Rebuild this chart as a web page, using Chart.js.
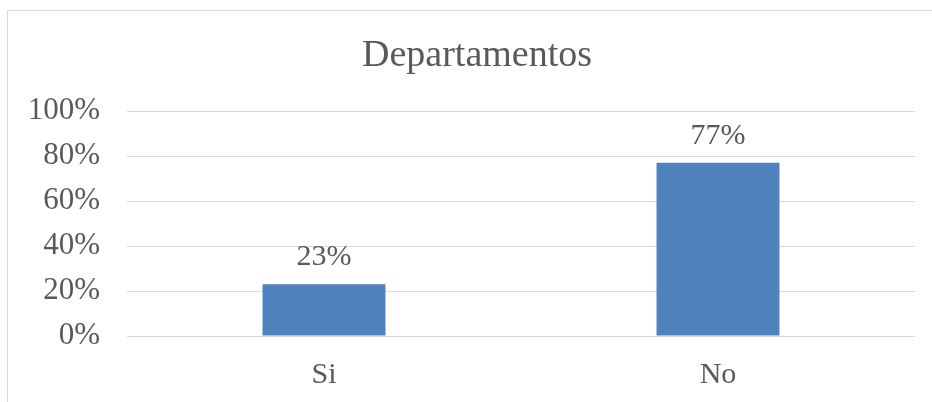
<!DOCTYPE html>
<html>
<head>
<meta charset="utf-8">
<script src="https://cdn.jsdelivr.net/npm/chart.js@4/dist/chart.umd.min.js"></script>
<style>
  html, body { margin: 0; padding: 0; background: #fff; }
  #wrap { width: 932px; height: 402px; position: relative; }
</style>
</head>
<body>
<div id="wrap"><canvas id="c" width="932" height="402"></canvas></div>
<script>
const categories = ['Si', 'No'];
const values = [23, 77];
const tickValues = [0, 20, 40, 60, 80, 100];
const chartTitle = 'Departamentos';

const SERIF = '"Liberation Serif", "Times New Roman", serif';
const TEXT = '#595959';

// Frame around the whole chart
const framePlugin = {
  id: 'frame',
  beforeDraw(chart) {
    const ctx = chart.ctx;
    ctx.save();
    ctx.fillStyle = '#ffffff';
    ctx.fillRect(0, 0, chart.width, chart.height);
    ctx.strokeStyle = '#d9d9d9';
    ctx.lineWidth = 1;
    ctx.strokeRect(7.5, 10.5, chart.width + 20, chart.height + 20);
    ctx.restore();
  }
};

// Heading centred over the chart frame
const headingPlugin = {
  id: 'heading',
  afterDraw(chart) {
    const ctx = chart.ctx;
    ctx.save();
    ctx.font = '38px ' + SERIF;
    ctx.fillStyle = TEXT;
    ctx.textAlign = 'center';
    ctx.textBaseline = 'middle';
    ctx.fillText(chartTitle, 477, 56);
    ctx.restore();
  }
};

// Percentage labels above each bar
const valueLabels = {
  id: 'valueLabels',
  afterDatasetsDraw(chart) {
    const ctx = chart.ctx;
    const meta = chart.getDatasetMeta(0);
    ctx.save();
    ctx.font = '30px ' + SERIF;
    ctx.fillStyle = TEXT;
    ctx.textAlign = 'center';
    ctx.textBaseline = 'bottom';
    meta.data.forEach((bar, i) => {
      ctx.fillText(values[i] + '%', bar.x, bar.y - 12);
    });
    ctx.restore();
  }
};

new Chart(document.getElementById('c'), {
  type: 'bar',
  data: {
    labels: categories,
    datasets: [{
      data: values,
      backgroundColor: '#4f81bd',
      borderWidth: 0,
      barPercentage: 0.312,
      categoryPercentage: 1
    }]
  },
  options: {
    responsive: false,
    animation: false,
    layout: { padding: { left: 0, right: 17, top: 111, bottom: 0 } },
    plugins: {
      legend: { display: false },
      tooltip: { enabled: false },
      title: { display: false }
    },
    scales: {
      x: {
        afterFit(scale) { scale.height = 66; },
        grid: { display: false },
        border: { display: false },
        ticks: {
          color: TEXT,
          font: { family: SERIF, size: 30 },
          padding: 13
        }
      },
      y: {
        min: 0,
        max: 100,
        afterFit(scale) { scale.width = 127; },
        afterBuildTicks(scale) { scale.ticks = tickValues.map(v => ({ value: v })); },
        grid: { color: '#d9d9d9', lineWidth: 1, drawTicks: false },
        border: { display: false },
        ticks: {
          autoSkip: false,
          color: TEXT,
          font: { family: SERIF, size: 31 },
          padding: 27,
          callback: v => v + '%'
        }
      }
    }
  },
  plugins: [framePlugin, headingPlugin, valueLabels]
});
</script>
</body>
</html>
